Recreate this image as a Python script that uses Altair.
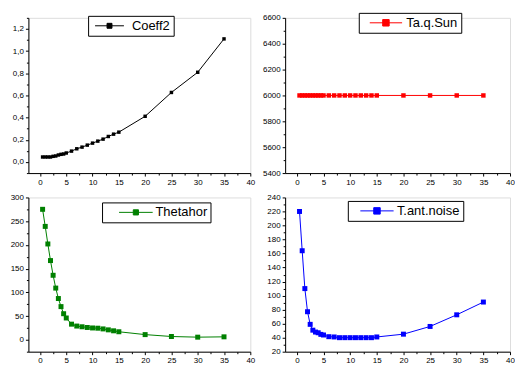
import altair as alt
import pandas as pd

# x positions (shared by all four series)
x_vals = [0.5, 1, 1.5, 2, 2.5, 3, 3.5, 4, 4.5, 5, 6, 7, 8, 9, 10, 11, 12, 13, 14, 15, 20, 25, 30, 35]

coeff2 = [0.045, 0.045, 0.045, 0.045, 0.051, 0.054, 0.063, 0.069, 0.072, 0.081, 0.098, 0.119,
          0.134, 0.152, 0.170, 0.188, 0.206, 0.230, 0.251, 0.269, 0.412, 0.627, 0.809, 1.110]
taqsun = [6000] * 24
thetahor = [275, 239, 202, 167, 136, 109, 87, 70, 55, 46, 33, 29,
            27.5, 26, 25, 24.5, 23, 21, 19, 17, 11, 7, 5.6, 6.3]
tantnoise = [220, 164, 110, 77, 59, 50.7, 48, 47, 44.7, 43.8, 41.4, 41,
             40, 40, 40, 40, 40, 40, 40, 41, 45, 56, 72.6, 90.8]

FONT = "Liberation Sans"


def legend_path(half_line, half_sq):
    return (f"M{-half_line},0H{half_line}"
            f"M{-half_sq},{-half_sq}H{half_sq}V{half_sq}H{-half_sq}Z")


def x_axis():
    return alt.Axis(
        values=[2.5 * i for i in range(17)],
        labelExpr="datum.value % 5 == 0 ? datum.label : ''",
        tickSize={"condition": {"test": "datum.value % 5 == 0", "value": 3}, "value": 2},
        format="d", labelFontSize=8, labelFont=FONT, labelPadding=2, labelColor="black",
        grid=False, title=None, domainColor="black", tickColor="black",
        labelOverlap=False, labelFlush=False,
    )


def y_axis(values, major_test, label_expr, fmt):
    return alt.Axis(
        values=values,
        labelExpr=f"{major_test} ? {label_expr} : ''",
        tickSize={"condition": {"test": major_test, "value": 3}, "value": 2},
        format=fmt, labelFontSize=8, labelFont=FONT, labelPadding=2, labelColor="black",
        grid=False, title=None, domainColor="black", tickColor="black",
        labelOverlap=False, labelFlush=False,
    )


def panel(name, ys, color, xmin, ydom, yaxis, w, h, lx, ly, msize, hl, hs, so, lo):
    df = pd.DataFrame({"x": x_vals, "y": ys, "series": name})
    base = alt.Chart(df).encode(
        x=alt.X("x:Q", scale=alt.Scale(domain=[xmin, 40], nice=False, zero=False), axis=x_axis()),
        y=alt.Y("y:Q", scale=alt.Scale(domain=ydom, nice=False, zero=False), axis=yaxis),
        color=alt.Color(
            "series:N",
            scale=alt.Scale(domain=[name], range=[color]),
            legend=alt.Legend(
                orient="none", legendX=lx, legendY=ly, title=None, columns=0,
                symbolType=legend_path(hl, hs), symbolSize=169, symbolStrokeWidth=1,
                symbolOffset=so, labelOffset=lo, labelFontSize=13, labelFont=FONT,
                labelColor="black", padding=3, strokeColor="black", fillColor="white",
                cornerRadius=0, symbolFillColor=color, symbolStrokeColor=color,
            ),
        ),
    )
    line = base.mark_line(strokeWidth=1)
    pts = base.mark_square(size=msize, opacity=1, filled=True)
    return alt.layer(line, pts).properties(width=w, height=h)


tl = panel(
    "Coeff2", coeff2, "#000000", -2.2, [-0.1, 1.3],
    y_axis([round(-0.1 + 0.1 * i, 2) for i in range(15)],
           "abs(datum.value*5 - round(datum.value*5)) < 1e-6",
           "replace(datum.label, '.', ',')", ".1f"),
    223, 156, 60, -2, 12, 2.23, 0.38, 11.5, 15.5,
)
tr = panel(
    "Ta.q.Sun", taqsun, "#FF0000", -2.2, [5400, 6600],
    y_axis([5400 + 100 * i for i in range(13)], "datum.value % 200 == 0", "datum.label", "d"),
    226, 156, 74, -5, 20, 2.5, 0.5, 17.3, 13.4,
)
bl = panel(
    "Thetahor", thetahor, "#008000", -2.2, [-25, 300],
    y_axis([-25 + 25 * i for i in range(14)], "datum.value % 50 == 0", "datum.label", "d"),
    223, 155, 74, 5, 25, 2.6, 0.4, 24, 12.7,
)
br = panel(
    "T.ant.noise", tantnoise, "#0000FF", -2.2, [20, 240],
    y_axis([20 + 10 * i for i in range(23)], "datum.value % 20 == 0", "datum.label", "d"),
    226, 155, 63, 3.5, 25, 2.57, 0.5, 19.3, 13,
)

chart = alt.concat(tl, tr, bl, br, columns=2, spacing={"row": 5.5, "column": 6}).resolve_scale(
    color="independent"
).resolve_legend(color="independent").properties(
    padding={"left": 1.5, "top": 3, "right": 0, "bottom": 0}
).configure_view(stroke=None).configure(background="white")

chart.save("out.html", embed_options={"renderer": "svg", "actions": False})
